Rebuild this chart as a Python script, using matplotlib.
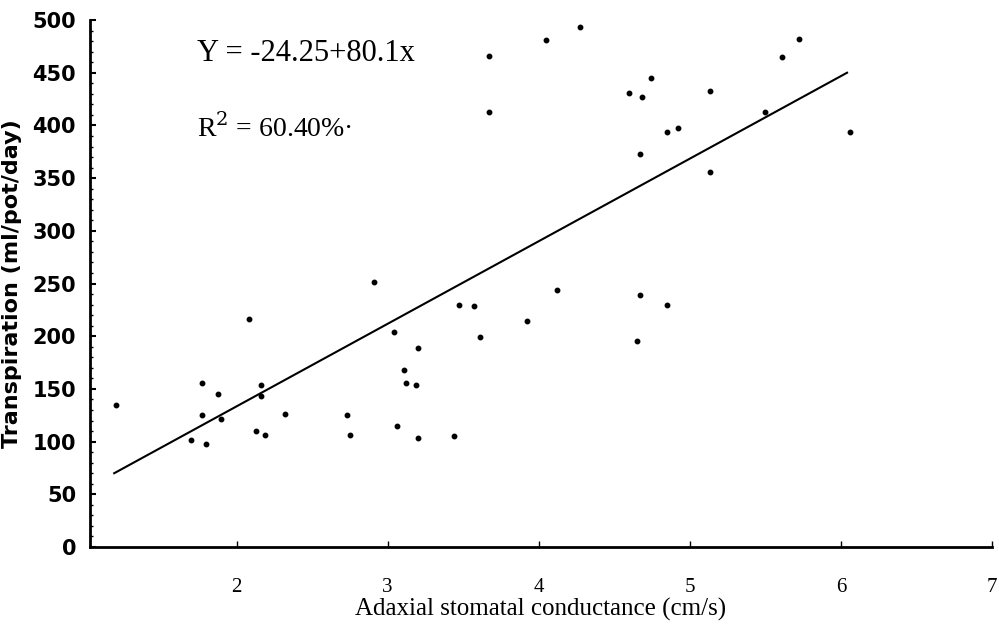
import matplotlib
matplotlib.use("Agg")
import matplotlib.pyplot as plt
from matplotlib.ticker import MultipleLocator

# values
conductance = [1.20, 1.70, 1.77, 1.77, 1.80, 1.88, 1.90, 2.08, 2.13, 2.16,
               2.16, 2.19, 2.32, 2.73, 2.75, 2.91, 3.04, 3.06, 3.11, 3.12,
               3.19, 3.20, 3.20, 3.44, 3.47, 3.57, 3.61, 3.67, 3.67, 3.92,
               4.05, 4.12, 4.27, 4.60, 4.65, 4.67, 4.67, 4.68, 4.74, 4.85,
               4.85, 4.92, 5.13, 5.13, 5.50, 5.61, 5.72, 6.06]
transpiration = [135, 102, 125, 156, 98, 145, 121, 216, 110, 154,
                 143, 106, 126, 125, 106, 251, 204, 115, 168, 156,
                 154, 103, 189, 105, 230, 229, 199, 466, 413, 214,
                 481, 244, 493, 431, 195, 373, 239, 427, 445, 394,
                 230, 398, 433, 356, 413, 465, 482, 394]

# ends of the drawn regression line
fit_x = [1.19, 6.04]
fit_y = [70, 450]

x_ticks = [2, 3, 4, 5, 6, 7]
y_ticks = [0, 50, 100, 150, 200, 250, 300, 350, 400, 450, 500]

fig = plt.figure(figsize=(9.99, 6.38), dpi=100)
ax = fig.add_axes([0.0901, 0.1426, 0.903, 0.826])

ax.plot(conductance, transpiration, 'o', color='black', ms=3.2)
ax.plot(fit_x, fit_y, color='black', lw=1.5)

ax.set_xlim(1.03, 7.0)
ax.set_ylim(0, 500)
ax.set_xticks(x_ticks)
ax.set_yticks(y_ticks)
ax.yaxis.set_minor_locator(MultipleLocator(10))

for side in ['top', 'right']:
    ax.spines[side].set_visible(False)
for side in ['left', 'bottom']:
    ax.spines[side].set_linewidth(2)

ax.tick_params(axis='x', direction='in', length=4, width=1, pad=22)
ax.tick_params(axis='y', direction='in', length=4, width=1.5, pad=10)
ax.tick_params(axis='y', which='minor', direction='in', length=2, width=1)

for lab in ax.get_xticklabels():
    lab.set_fontfamily('Liberation Serif')
    lab.set_fontsize(15)
for lab in ax.get_yticklabels():
    lab.set_fontfamily('DejaVu Sans')
    lab.set_fontweight('bold')
    lab.set_fontsize(15)

ax.set_xlabel("Adaxial stomatal conductance (cm/s)", family='Liberation Serif',
              fontsize=18, labelpad=1)
ax.set_ylabel("Transpiration (ml/pot/day)", family='DejaVu Sans',
              fontweight='bold', fontsize=16)
ax.yaxis.set_label_coords(-0.075, 0.5)

ax.text(1.74, 461, "Y = -24.25+80.1x", family='Liberation Serif',
        fontsize=22, va='baseline')
ax.text(1.735, 389, "R$^{2}$ = 60.40%\u00b7", family='Liberation Serif',
        fontsize=20, va='baseline', math_fontfamily='dejavuserif')

fig.savefig("out.png", dpi=100)
